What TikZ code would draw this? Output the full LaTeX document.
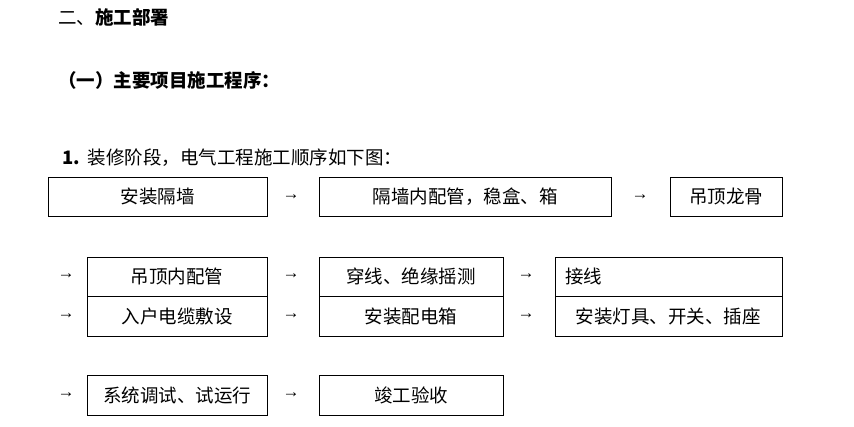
\documentclass[tikz,border=0pt]{standalone}
\usepackage{fontspec}
\newfontfamily\cjk{Noto Sans CJK SC}
\setmainfont{Liberation Serif}
\begin{document}
\begin{tikzpicture}[x=1pt,y=-1pt,
  box/.style={draw,line width=0.8pt,inner sep=0pt},
  txt/.style={font=\cjk\fontsize{18.5}{20}\selectfont,inner sep=0pt},
  arr/.style={font=\fontsize{17}{18}\selectfont,inner sep=0pt}]
\useasboundingbox (0,0) rectangle (854,427);
\node[txt,anchor=west] (h1) at (58,17) {二、\textbf{施工部署}};
\node[txt,anchor=west,font=\cjk\bfseries\fontsize{18.5}{20}\selectfont] (h2) at (58,80) {（一）主要项目施工程序：};
\node[txt,anchor=west] (h3) at (62,158) {\textbf{1.}\hspace{8pt}装修阶段，电气工程施工顺序如下图：};
% row 1
\draw[box] (48,177) rectangle (267,216); \node[txt] (b1) at (157.5,196.5) {安装隔墙};
\node[arr] (a1) at (291,197) {→};
\draw[box] (319,177) rectangle (611,216); \node[txt] (b2) at (465,196.5) {隔墙内配管，稳盒、箱};
\node[arr] (a2) at (640,197) {→};
\draw[box] (670,177) rectangle (782,216); \node[txt] (b3) at (726,196.5) {吊顶龙骨};
% rows 2-3
\draw[box] (87,257) rectangle (267,336); \draw[box] (87,296) -- (267,296);
\draw[box] (319,257) rectangle (503,336); \draw[box] (319,296) -- (503,296);
\draw[box] (555,257) rectangle (782,336); \draw[box] (555,296) -- (782,296);
\node[arr] (a3) at (66,276) {→};
\node[txt] (c1) at (177,276) {吊顶内配管};
\node[arr] (a4) at (291,276) {→};
\node[txt] (c2) at (411,276) {穿线、绝缘摇测};
\node[arr] (a5) at (526,276) {→};
\node[txt,anchor=west] (c3) at (565,276) {接线};
\node[arr] (a6) at (66,316) {→};
\node[txt] (d1) at (177,316) {入户电缆敷设};
\node[arr] (a7) at (291,316) {→};
\node[txt] (d2) at (411,316) {安装配电箱};
\node[arr] (a8) at (526,316) {→};
\node[txt] (d3) at (668,316) {安装灯具、开关、插座};
% row 4
\node[arr] (a9) at (66,395) {→};
\draw[box] (87,375) rectangle (267,415); \node[txt] (e1) at (177,395) {系统调试、试运行};
\node[arr] (a10) at (291,395) {→};
\draw[box] (319,375) rectangle (503,415); \node[txt] (e2) at (411,395) {竣工验收};
\end{tikzpicture}
\end{document}
